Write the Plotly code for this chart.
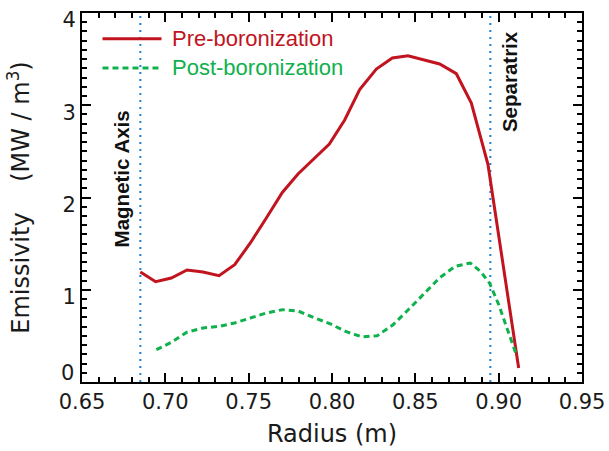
import plotly.graph_objects as go

# Radial emissivity profiles (radius in m, emissivity in MW/m^3)
pre_radius = [0.6850, 0.6942, 0.7036, 0.7130, 0.7226, 0.7322, 0.7416, 0.7510,
              0.7606, 0.7702, 0.7796, 0.7896, 0.7984, 0.8076, 0.8166, 0.8266,
              0.8362, 0.8456, 0.8556, 0.8646, 0.8746, 0.8836, 0.8936, 0.9120]
pre_emissivity = [1.192, 1.087, 1.127, 1.214, 1.192, 1.152, 1.271, 1.507,
                  1.778, 2.055, 2.255, 2.428, 2.580, 2.840, 3.170, 3.393,
                  3.512, 3.537, 3.494, 3.447, 3.342, 3.024, 2.356, 0.152]

post_radius = [0.6946, 0.7036, 0.7130, 0.7226, 0.7322, 0.7416, 0.7510, 0.7606,
               0.7702, 0.7796, 0.7896, 0.7990, 0.8086, 0.8180, 0.8270, 0.8366,
               0.8456, 0.8550, 0.8646, 0.8740, 0.8830, 0.8890, 0.8946, 0.9000,
               0.9056, 0.9105]
post_emissivity = [0.350, 0.430, 0.540, 0.585, 0.603, 0.640, 0.694, 0.748,
                   0.784, 0.770, 0.694, 0.630, 0.545, 0.490, 0.500, 0.620,
                   0.780, 0.950, 1.130, 1.255, 1.290, 1.200, 1.070, 0.840,
                   0.550, 0.300]

MAG_AXIS = 0.685
SEPARATRIX = 0.895

x_ticks = [0.65, 0.70, 0.75, 0.80, 0.85, 0.90, 0.95]
y_ticks = [1, 2, 3, 4]
y_zero = 0

RED = "#c1141e"
GREEN = "#0fb14c"
BLUE = "#1e80d4"
TICK_FONT = dict(family="DejaVu Sans", size=21, color="#1a1a1a")
TITLE_FONT = dict(family="DejaVu Sans", size=24, color="#1a1a1a")
LABEL_FONT = "Liberation Sans"

fig = go.Figure()

fig.add_trace(go.Scatter(x=pre_radius, y=pre_emissivity, mode="lines",
                         name="Pre-boronization",
                         line=dict(color=RED, width=3)))
fig.add_trace(go.Scatter(x=post_radius, y=post_emissivity, mode="lines",
                         name="Post-boronization",
                         line=dict(color=GREEN, width=3, dash="6px,4px")))

# Magnetic axis and separatrix markers
for xv in (MAG_AXIS, SEPARATRIX):
    fig.add_vline(x=xv, line=dict(color=BLUE, width=2, dash="2px,5px"),
                  layer="below")

fig.add_annotation(x=MAG_AXIS, y=2.2, xshift=-19, text="<b>Magnetic Axis</b>",
                   textangle=-90, showarrow=False,
                   font=dict(family=LABEL_FONT, size=20.5, color="#111111"))
fig.add_annotation(x=SEPARATRIX, y=3.255, xshift=19, text="<b>Separatrix</b>",
                   textangle=-90, showarrow=False,
                   font=dict(family=LABEL_FONT, size=20.5, color="#111111"))

# the zero label sits just above the corner, clear of the x labels
fig.add_annotation(xref="paper", x=0, y=y_zero, xanchor="right",
                   yanchor="middle", xshift=-6, yshift=9, text=str(y_zero),
                   showarrow=False, font=TICK_FONT)

# Legend drawn inside the frame
legend_rows = [("Pre-boronization", RED, "solid", 0.930),
               ("Post-boronization", GREEN, "6px,4px", 0.851)]
for label, color, dash, yy in legend_rows:
    fig.add_shape(type="line", xref="paper", yref="paper",
                  x0=0.041, x1=0.159, y0=yy, y1=yy,
                  line=dict(color=color, width=3, dash=dash))
    fig.add_annotation(xref="paper", yref="paper", x=0.176, y=yy,
                       xanchor="left", yanchor="middle", text=label,
                       showarrow=False,
                       font=dict(family=LABEL_FONT, size=22, color=color))

fig.update_xaxes(range=[0.65, 0.95], tickmode="array", tickvals=x_ticks,
                 ticktext=[f"{v:.2f}" for v in x_ticks],
                 ticks="inside", ticklen=9, tickwidth=2, tickcolor="#000000",
                 showline=True, linecolor="#000000", linewidth=2,
                 mirror="allticks", showgrid=False, zeroline=False,
                 tickfont=TICK_FONT, automargin=False,
                 minor=dict(ticks="inside", ticklen=5, tickwidth=1.5,
                            tickcolor="#000000", dtick=0.01, showgrid=False),
                 title=dict(text="Radius (m)", font=TITLE_FONT, standoff=12))
fig.update_yaxes(range=[0, 4], tickmode="array", tickvals=y_ticks,
                 ticktext=[str(v) for v in y_ticks],
                 ticklabelshift=7, ticklabeloverflow="allow",
                 ticks="inside", ticklen=9, tickwidth=2, tickcolor="#000000",
                 showline=True, linecolor="#000000", linewidth=2,
                 mirror="allticks", showgrid=False, zeroline=False,
                 tickfont=TICK_FONT, automargin=False,
                 minor=dict(ticks="inside", ticklen=5, tickwidth=1.5,
                            tickcolor="#000000", dtick=0.1, showgrid=False),
                 title=dict(text="Emissivity\u00a0\u00a0\u00a0\u00a0(MW\u00a0/\u00a0m<sup>3</sup>)",
                            font=TITLE_FONT, standoff=26))

fig.update_layout(template="none", width=609, height=451,
                  margin=dict(l=82, r=27, t=13, b=69, autoexpand=False),
                  paper_bgcolor="white", plot_bgcolor="white",
                  showlegend=False)

fig.write_html("out.html")
